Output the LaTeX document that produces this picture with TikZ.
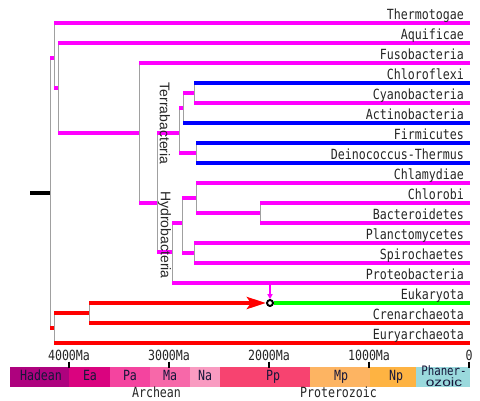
\documentclass[tikz,border=0pt]{standalone}
\usepackage{fontspec}
\usetikzlibrary{arrows.meta}
\newfontfamily\taxfont[FakeStretch=0.83]{DejaVu Sans Mono}
\newfontfamily\rotfont{Liberation Sans}
\newfontfamily\ozfont[FakeStretch=1.3]{Liberation Sans}
\definecolor{mgc}{HTML}{FF00FF}
\definecolor{bluc}{HTML}{0000FF}
\definecolor{redc}{HTML}{FF0000}
\definecolor{grnc}{HTML}{00FF00}
\definecolor{linkgray}{HTML}{A0A0A0}
\definecolor{hadc}{HTML}{AE027E}
\definecolor{eac}{HTML}{DA037F}
\definecolor{pac}{HTML}{F4449F}
\definecolor{mac}{HTML}{F768A9}
\definecolor{nac}{HTML}{F99BC1}
\definecolor{ppc}{HTML}{F74370}
\definecolor{mpc}{HTML}{FDB462}
\definecolor{npc}{HTML}{FEB342}
\definecolor{phc}{HTML}{9AD9DD}
\definecolor{boxtext}{HTML}{16163A}
\tikzset{
  bar/.style={line width=4.6pt, line cap=butt},
  mgbar/.style={bar, draw=mgc},
  bluebar/.style={bar, draw=bluc},
  redbar/.style={bar, draw=redc},
  greenbar/.style={bar, draw=grnc},
  link/.style={draw=linkgray, line width=1pt},
  lab/.style={font=\taxfont\fontsize{14}{14}\selectfont, anchor=base east, inner sep=0pt, text=black!85},
  axlab/.style={font=\taxfont\fontsize{14}{14}\selectfont, anchor=base, inner sep=0pt, text=black!85},
  boxlab/.style={font=\taxfont\fontsize{14}{14}\selectfont, anchor=base, inner sep=0pt, text=boxtext},
  rotlab/.style={font=\rotfont\fontsize{14}{14}\selectfont, rotate=-90, inner sep=0pt, text=black!85},
  tick/.style={draw=black, line width=1.5pt}
}
\begin{document}
\begin{tikzpicture}[x=1pt,y=-1pt]
\useasboundingbox (0,0) rectangle (480,400);
\fill[white] (0,0) rectangle (480,400);

% internal nodes
\coordinate (rootend) at (30,193);
\coordinate (R) at (50,193);
\coordinate (B) at (54,58);
\coordinate (N1) at (58,88);
\coordinate (N2) at (139,133);
\coordinate (N3) at (157,203);
\coordinate (T) at (179,133);
\coordinate (T1) at (183,108);
\coordinate (T3) at (194,93);
\coordinate (T2) at (196,153);
\coordinate (H) at (172,252);
\coordinate (H1) at (182,223);
\coordinate (H2) at (196,198);
\coordinate (H4) at (260,213);
\coordinate (H3) at (194,253);
\coordinate (A) at (54,328);
\coordinate (A1) at (89,313);
% leaves
\coordinate (lThe) at (470,23);
\coordinate (lAqu) at (470,43);
\coordinate (lFus) at (470,63);
\coordinate (lChf) at (470,83);
\coordinate (lCya) at (470,103);
\coordinate (lAct) at (470,123);
\coordinate (lFir) at (470,143);
\coordinate (lDei) at (470,163);
\coordinate (lChl) at (470,183);
\coordinate (lCbi) at (470,203);
\coordinate (lBac) at (470,223);
\coordinate (lPla) at (470,243);
\coordinate (lSpi) at (470,263);
\coordinate (lPro) at (470,283);
\coordinate (lEuk) at (470,303);
\coordinate (lCre) at (470,323);
\coordinate (lEur) at (470,343);

% vertical links
\draw[link] (R|-B) -- (R|-A);
\draw[link] (B|-lThe) -- (B|-N1);
\draw[link] (N1|-lAqu) -- (N1|-N2);
\draw[link] (N2|-lFus) -- (N2|-N3);
\draw[link] (N3|-T) -- (N3|-H);
\draw[link] (T|-T1) -- (T|-T2);
\draw[link] (T1|-T3) -- (T1|-lAct);
\draw[link] (T3|-lChf) -- (T3|-lCya);
\draw[link] (T2|-lFir) -- (T2|-lDei);
\draw[link] (H|-H1) -- (H|-lPro);
\draw[link] (H1|-H2) -- (H1|-H3);
\draw[link] (H2|-lChl) -- (H2|-H4);
\draw[link] (H4|-lCbi) -- (H4|-lBac);
\draw[link] (H3|-lPla) -- (H3|-lSpi);
\draw[link] (A|-A1) -- (A|-lEur);
\draw[link] (A1|-lEuk) -- (A1|-lCre);

% root bar
\draw[bar, draw=black] (rootend) -- (R);

% magenta bars
\draw[mgbar] (R|-B) -- (B);
\draw[mgbar] (B|-lThe) -- (lThe);
\draw[mgbar] (B|-N1) -- (N1);
\draw[mgbar] (N1|-lAqu) -- (lAqu);
\draw[mgbar] (N1|-N2) -- (N2);
\draw[mgbar] (N2|-lFus) -- (lFus);
\draw[mgbar] (N2|-N3) -- (N3);
\draw[mgbar] (N3|-T) -- (T);
\draw[mgbar] (N3|-H) -- (H);
\draw[mgbar] (T|-T1) -- (T1);
\draw[mgbar] (T|-T2) -- (T2);
\draw[mgbar] (T1|-T3) -- (T3);
\draw[mgbar] (T3|-lCya) -- (lCya);
\draw[mgbar] (H|-H1) -- (H1);
\draw[mgbar] (H|-lPro) -- (lPro);
\draw[mgbar] (H1|-H2) -- (H2);
\draw[mgbar] (H1|-H3) -- (H3);
\draw[mgbar] (H2|-lChl) -- (lChl);
\draw[mgbar] (H2|-H4) -- (H4);
\draw[mgbar] (H4|-lCbi) -- (lCbi);
\draw[mgbar] (H4|-lBac) -- (lBac);
\draw[mgbar] (H3|-lPla) -- (lPla);
\draw[mgbar] (H3|-lSpi) -- (lSpi);

% blue bars
\draw[bluebar] (T3|-lChf) -- (lChf);
\draw[bluebar] (T1|-lAct) -- (lAct);
\draw[bluebar] (T2|-lFir) -- (lFir);
\draw[bluebar] (T2|-lDei) -- (lDei);

% archaea
\draw[redbar] (R|-A) -- (A);
\draw[redbar] (A|-A1) -- (A1);
\draw[redbar] (A|-lEur) -- (lEur);
\draw[redbar] (A1|-lCre) -- (lCre);

% eukaryota
\node[circle, draw=black, line width=1.8pt, fill=white, minimum size=5.8pt, inner sep=0pt] (endo) at (270,303) {};
\draw[greenbar] (endo.east) -- (lEuk);
\draw[redbar, -{Stealth[length=19pt, width=12pt, inset=4pt]}] (A1|-lEuk) -- ([xshift=-0.3pt]endo.west);
\coordinate (pstart) at (270,285.3);
\draw[draw=mgc, line width=1.4pt, -{Triangle[length=5pt, width=5pt]}] (pstart) -- (endo.north);
\node[circle, draw=black, line width=1.8pt, fill=white, minimum size=5.8pt, inner sep=0pt] (endo2) at (endo) {};

% taxon labels
\node[lab] (tThe) at (464,19.5) {Thermotogae};
\node[lab] (tAqu) at (464,39.5) {Aquificae};
\node[lab] (tFus) at (464,59.5) {Fusobacteria};
\node[lab] (tChf) at (464,79.5) {Chloroflexi};
\node[lab] (tCya) at (464,99.5) {Cyanobacteria};
\node[lab] (tAct) at (464,119.5) {Actinobacteria};
\node[lab] (tFir) at (464,139.5) {Firmicutes};
\node[lab] (tDei) at (464,159.5) {Deinococcus-Thermus};
\node[lab] (tChl) at (464,179.5) {Chlamydiae};
\node[lab] (tCbi) at (464,199.5) {Chlorobi};
\node[lab] (tBac) at (464,219.5) {Bacteroidetes};
\node[lab] (tPla) at (464,239.5) {Planctomycetes};
\node[lab] (tSpi) at (464,259.5) {Spirochaetes};
\node[lab] (tPro) at (464,279.5) {Proteobacteria};
\node[lab] (tEuk) at (464,299.5) {Eukaryota};
\node[lab] (tCre) at (464,319.5) {Crenarchaeota};
\node[lab] (tEur) at (464,339.5) {Euryarchaeota};

% group labels
\node[rotlab] (terra) at (165,123.5) {Terrabacteria};
\node[rotlab] (hydro) at (164.5,235) {Hydrobacteria};

% time axis
\node[axlab] (a4) at (69,360) {4000Ma};
\node[axlab] (a3) at (169,360) {3000Ma};
\node[axlab] (a2) at (269,360) {2000Ma};
\node[axlab] (a1) at (369,360) {1000Ma};
\node[axlab] (a0) at (469,360) {0};

% time scale
\fill[hadc] (10,367) rectangle (69,387);
\fill[eac] (69,367) rectangle (109.5,387);
\fill[pac] (109.5,367) rectangle (149.5,387);
\fill[mac] (149.5,367) rectangle (189.5,387);
\fill[nac] (189.5,367) rectangle (219.5,387);
\fill[ppc] (219.5,367) rectangle (309.5,387);
\fill[mpc] (309.5,367) rectangle (369.5,387);
\fill[npc] (369.5,367) rectangle (415.5,387);
\fill[phc] (415.5,367) rectangle (470,387);

\foreach \tx in {69,169,269,369,469} \draw[tick] (\tx,361.5) -- (\tx,367.5);

\node[boxlab] (had) at (41,380.5) {Hadean};
\node[boxlab] (ea) at (90,380.5) {Ea};
\node[boxlab] (pa) at (130,380.5) {Pa};
\node[boxlab] (ma) at (170,380.5) {Ma};
\node[boxlab] (na) at (205,380.5) {Na};
\node[boxlab] (pp) at (273,380.5) {Pp};
\node[boxlab] (mp) at (341,380.5) {Mp};
\node[boxlab] (np) at (396,380.5) {Np};
\node[boxlab, align=center, font=\taxfont\fontsize{13}{10.5}\selectfont] (ph) at (444,386)
  {Phaner-\\{\ozfont\fontsize{12}{10.5}\selectfont ozoic}};

\node[axlab] (arch) at (156.5,397.5) {Archean};
\node[axlab] (prot) at (338.5,397.5) {Proterozoic};
\end{tikzpicture}
\end{document}
